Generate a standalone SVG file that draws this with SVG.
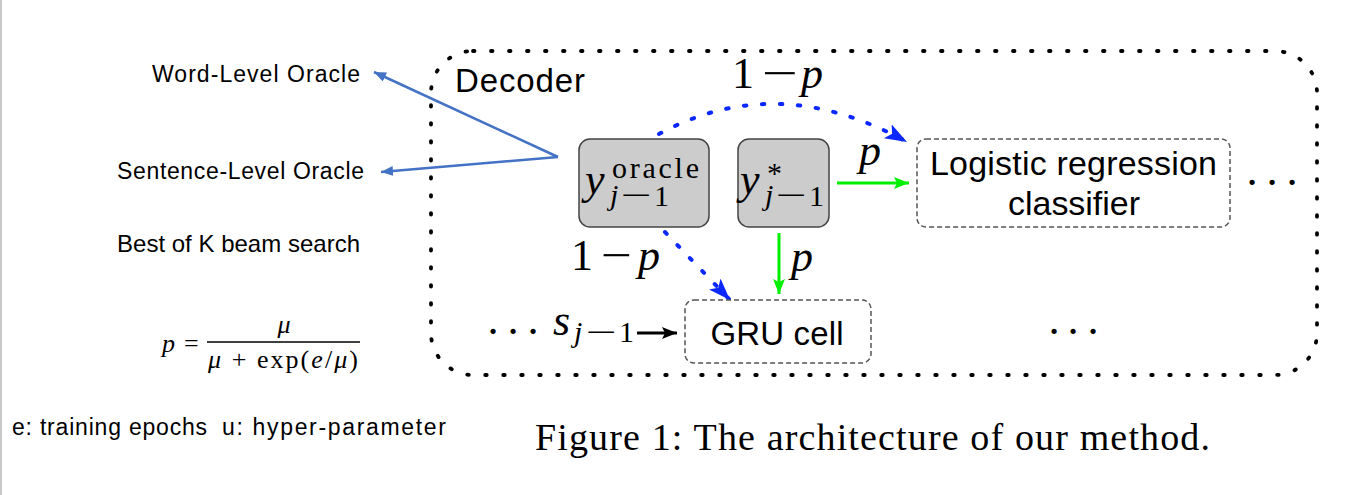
<svg xmlns="http://www.w3.org/2000/svg" width="1347" height="495" viewBox="0 0 1347 495">
<defs>
<style>
.ui{font-family:"Liberation Sans",Arial,sans-serif;fill:#000}
.m{font-family:"Liberation Serif","Times New Roman",serif;fill:#000}
.it{font-style:italic}
.dots{font-family:"Liberation Serif",serif;font-size:44px;text-anchor:middle;fill:#000}
.gray{fill:#cccccc;stroke:#444;stroke-width:1.5}
.dash{fill:#fff;stroke:#555;stroke-width:1.5;stroke-dasharray:5 3}
.bluedot{fill:none;stroke:#0a28ff;stroke-width:4;stroke-linecap:round;stroke-dasharray:2.5 15.5}
.green{fill:none;stroke:#00ee00;stroke-width:3}
.bl{fill:none;stroke:#4472c4;stroke-width:2.5}
</style>
<marker id="hb" markerUnits="userSpaceOnUse" markerWidth="24" markerHeight="18" refX="22" refY="8" orient="auto"><path d="M0,0 L22,8 L0,16 L5,8 z" fill="#0a28ff"/></marker>
<marker id="hg" markerUnits="userSpaceOnUse" markerWidth="16" markerHeight="14" refX="15" refY="6" orient="auto"><path d="M0,0 L15,6 L0,12 L3,6 z" fill="#00ee00"/></marker>
<marker id="hk" markerUnits="userSpaceOnUse" markerWidth="16" markerHeight="14" refX="15" refY="6" orient="auto"><path d="M0,0 L15,6 L0,12 L3,6 z" fill="#000"/></marker>
<marker id="hl" markerUnits="userSpaceOnUse" markerWidth="14" markerHeight="12" refX="12" refY="5" orient="auto"><path d="M0,0 L12,5 L0,10 z" fill="#4472c4"/></marker>
</defs>
<rect width="1347" height="495" fill="#fff"/>
<line x1="1" y1="0" x2="1" y2="495" stroke="#c8c8c8" stroke-width="2"/>

<g id="decoder">
<rect x="431" y="51" width="886" height="324" rx="42" fill="none" stroke="#000" stroke-width="3.8" stroke-linecap="round" stroke-dasharray="1.5 16.5"/>
<text class="ui" x="455" y="92" font-size="33" textLength="130">Decoder</text>
</g>

<g id="connectors">
<path class="bl" d="M558,157 L374,72" marker-end="url(#hl)"/>
<path class="bl" d="M558,157 L381,172" marker-end="url(#hl)"/>
<path class="bluedot" d="M659,134 Q777,70 907,142" marker-end="url(#hb)"/>
<path class="bluedot" d="M665,232 L730,300" marker-end="url(#hb)"/>
<path class="green" d="M837,183 L909,183" marker-end="url(#hg)"/>
<path class="green" d="M779,233 L779,294" marker-end="url(#hg)"/>
<path d="M637,333 L677,333" fill="none" stroke="#000" stroke-width="3" marker-end="url(#hk)"/>
<text class="m" x="732" y="88" font-size="44">1</text>
<text class="m" x="762" y="88" font-size="44" textLength="36" lengthAdjust="spacingAndGlyphs">−</text>
<text class="m it" x="801" y="88" font-size="44">p</text>
<text class="m it" x="859" y="165" font-size="44">p</text>
<text class="m" x="571" y="270" font-size="44">1</text>
<text class="m" x="601" y="270" font-size="44" textLength="31" lengthAdjust="spacingAndGlyphs">−</text>
<text class="m it" x="638" y="270" font-size="44">p</text>
<text class="m it" x="791" y="271" font-size="44">p</text>
</g>

<g id="n-oracle">
<rect class="gray" x="579" y="139" width="130" height="88" rx="11"/>
<text class="m it" x="585" y="194" font-size="44">y</text>
<text class="m" x="612" y="178" font-size="30" textLength="87">oracle</text>
<text class="m it" x="610" y="205" font-size="30">j</text>
<text class="m" x="621" y="205" font-size="30" textLength="31" lengthAdjust="spacingAndGlyphs">−</text>
<text class="m" x="654" y="206" font-size="30">1</text>
</g>

<g id="n-ystar">
<rect class="gray" x="738" y="139" width="91" height="88" rx="11"/>
<text class="m it" x="740" y="194" font-size="44">y</text>
<text class="m" x="767" y="183" font-size="30">*</text>
<text class="m it" x="765" y="205" font-size="30">j</text>
<text class="m" x="776" y="205" font-size="30" textLength="31" lengthAdjust="spacingAndGlyphs">−</text>
<text class="m" x="809" y="206" font-size="30">1</text>
</g>

<g id="n-logistic">
<rect class="dash" x="917" y="139" width="313" height="88" rx="9"/>
<text class="ui" x="1073.5" y="175" font-size="34" text-anchor="middle" textLength="287">Logistic regression</text>
<text class="ui" x="1074" y="215" font-size="34" text-anchor="middle" textLength="132">classifier</text>
</g>

<g id="n-gru">
<rect class="dash" x="685" y="300" width="186" height="63" rx="9"/>
<text class="ui" x="777" y="345" font-size="33" text-anchor="middle" textLength="133">GRU cell</text>
</g>

<g id="n-state">
<text class="dots" y="346"><tspan x="493">·</tspan><tspan x="513">·</tspan><tspan x="533">·</tspan></text>
<text class="m it" x="553" y="335" font-size="44">s</text>
<text class="m it" x="574" y="342" font-size="30">j</text>
<text class="m" x="586" y="342" font-size="30" textLength="31" lengthAdjust="spacingAndGlyphs">−</text>
<text class="m" x="619" y="342" font-size="30">1</text>
</g>

<g id="n-dots-right">
<text class="dots" y="197"><tspan x="1252">·</tspan><tspan x="1272">·</tspan><tspan x="1292">·</tspan></text>
</g>
<g id="n-dots-bottom">
<text class="dots" y="346"><tspan x="1054">·</tspan><tspan x="1073">·</tspan><tspan x="1093">·</tspan></text>
</g>

<g id="n-word">
<text class="ui" x="152" y="82" font-size="23" textLength="208">Word-Level Oracle</text>
</g>
<g id="n-sentence">
<text class="ui" x="117" y="179" font-size="23" textLength="247">Sentence-Level Oracle</text>
</g>
<g id="n-beam">
<text class="ui" x="117" y="252" font-size="24" textLength="243">Best of K beam search</text>
</g>

<g id="formula">
<text class="m it" x="162" y="352" font-size="26">p</text>
<text class="m" x="184" y="352" font-size="26">=</text>
<line x1="207" y1="342" x2="360" y2="342" stroke="#000" stroke-width="1.6"/>
<text class="m it" x="284" y="333" font-size="26" text-anchor="middle">μ</text>
<text class="m" x="283" y="368" font-size="26" text-anchor="middle" textLength="150"><tspan font-style="italic">μ</tspan> + exp(<tspan font-style="italic">e</tspan>/<tspan font-style="italic">μ</tspan>)</text>
</g>

<g id="legend">
<text class="ui" x="12" y="435" font-size="23" textLength="195">e: training epochs</text>
<text class="ui" x="222" y="435" font-size="23" textLength="224">u: hyper-parameter</text>
</g>

<g id="caption">
<text class="m" x="535" y="450" font-size="38" textLength="675">Figure 1: The architecture of our method.</text>
</g>
</svg>
